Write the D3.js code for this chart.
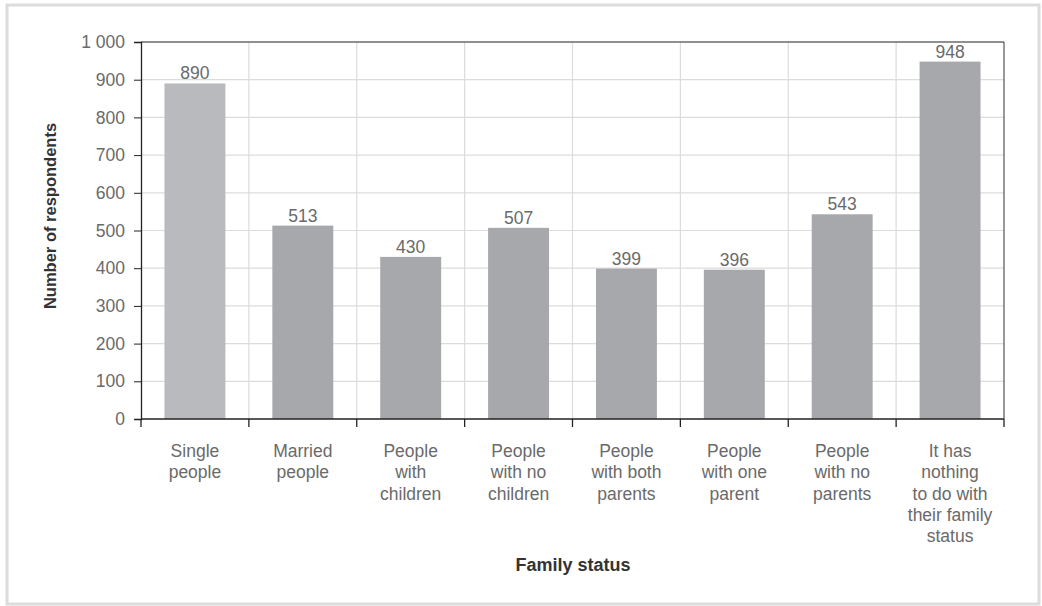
<!DOCTYPE html>
<html><head><meta charset="utf-8">
<script src="https://cdn.jsdelivr.net/npm/d3@7"></script>
<style>
html,body{margin:0;padding:0;background:#fff;}
svg{display:block;font-family:"Liberation Sans",Arial,sans-serif;}
</style></head>
<body>
<svg id="chart" width="1042" height="606"></svg>
<script>
const categories = [
  ["Single","people"],
  ["Married","people"],
  ["People","with","children"],
  ["People","with no","children"],
  ["People","with both","parents"],
  ["People","with one","parent"],
  ["People","with no","parents"],
  ["It has","nothing","to do with","their family","status"]
];
const values = [890, 513, 430, 507, 399, 396, 543, 948];
const yTicks = [0,100,200,300,400,500,600,700,800,900,1000];
const yTickLabels = ["0","100","200","300","400","500","600","700","800","900","1 000"];
const barColors = ["#b9babd","#a7a8ab","#a7a8ab","#a7a8ab","#a7a8ab","#a7a8ab","#a7a8ab","#a7a8ab"];
const yTitle = "Number of respondents";
const xTitle = "Family status";

(function(){
const svg = d3.select("#chart");
svg.append("rect").attr("x",7).attr("y",5).attr("width",1032).attr("height",599)
  .attr("fill","none").attr("stroke","#dcdcdc").attr("stroke-width",3);

const pl = 141, pr = 1004, pt = 42, pb = 419;
const fs = 17.5, txt = "#6a6a6a";
const idx = d3.range(categories.length);
const x = d3.scaleBand().domain(idx).range([pl,pr]).paddingInner(0).paddingOuter(0);
const y = d3.scaleLinear().domain([0,1000]).range([pb,pt]);
const bw = x.bandwidth()*0.565;

const g = svg.append("g");
g.selectAll(".hg").data(yTicks.slice(1)).join("line")
  .attr("x1",pl).attr("x2",pr).attr("y1",d=>y(d)).attr("y2",d=>y(d))
  .attr("stroke","#dcdcdc").attr("stroke-width",1.2);
g.selectAll(".vg").data(idx.slice(1)).join("line")
  .attr("x1",d=>x(d)).attr("x2",d=>x(d)).attr("y1",pt).attr("y2",pb)
  .attr("stroke","#dcdcdc").attr("stroke-width",1.2);

g.selectAll(".bar").data(values).join("rect")
  .attr("x",(d,i)=>x(i)+x.bandwidth()/2-bw/2)
  .attr("width",bw)
  .attr("y",d=>y(d))
  .attr("height",d=>pb-y(d))
  .attr("fill",(d,i)=>barColors[i]);

g.selectAll(".vl").data(values).join("text")
  .attr("x",(d,i)=>x(i)+x.bandwidth()/2)
  .attr("y",d=>y(d)-4)
  .attr("text-anchor","middle")
  .attr("font-size",fs).attr("fill",txt)
  .text(d=>d);

g.append("line").attr("x1",pl).attr("x2",pr).attr("y1",pt).attr("y2",pt).attr("stroke","#333").attr("stroke-width",1);
g.append("line").attr("x1",pr).attr("x2",pr).attr("y1",pt).attr("y2",pb).attr("stroke","#333").attr("stroke-width",1);

const yAxis = d3.axisLeft(y).tickValues(yTicks).tickSize(7).tickPadding(9)
  .tickFormat((d,i)=>yTickLabels[i]);
const ya = svg.append("g").attr("transform",`translate(${pl},0)`).call(yAxis);
ya.select(".domain").attr("stroke","#222").attr("stroke-width",1.3);
ya.selectAll(".tick line").attr("stroke","#222");
ya.selectAll(".tick text").attr("font-size",fs).attr("fill",txt)
  .attr("font-family","'Liberation Sans',Arial,sans-serif");

const xa = svg.append("g");
xa.append("line").attr("x1",pl).attr("x2",pr).attr("y1",pb).attr("y2",pb)
  .attr("stroke","#222").attr("stroke-width",1.3);
xa.selectAll(".xt").data(idx.concat([categories.length])).join("line")
  .attr("x1",d=>d<categories.length?x(d):pr).attr("x2",d=>d<categories.length?x(d):pr)
  .attr("y1",pb).attr("y2",pb+8).attr("stroke","#222").attr("stroke-width",1.3);

const cl = xa.selectAll(".cl").data(categories).join("text")
  .attr("text-anchor","middle").attr("font-size",fs).attr("fill",txt)
  .attr("transform",(d,i)=>`translate(${x(i)+x.bandwidth()/2},457)`);
cl.selectAll("tspan").data(d=>d).join("tspan")
  .attr("x",0).attr("y",(d,j)=>j*21.3).text(d=>d);

svg.append("text").attr("transform",`translate(56,216) rotate(-90)`)
  .attr("text-anchor","middle").attr("font-size",16.5).attr("fill","#333")
  .attr("font-weight","bold").text(yTitle);
svg.append("text").attr("x",573).attr("y",571).attr("text-anchor","middle")
  .attr("font-size",18).attr("fill","#333").attr("font-weight","bold").text(xTitle);
})();
</script>
</body></html>
